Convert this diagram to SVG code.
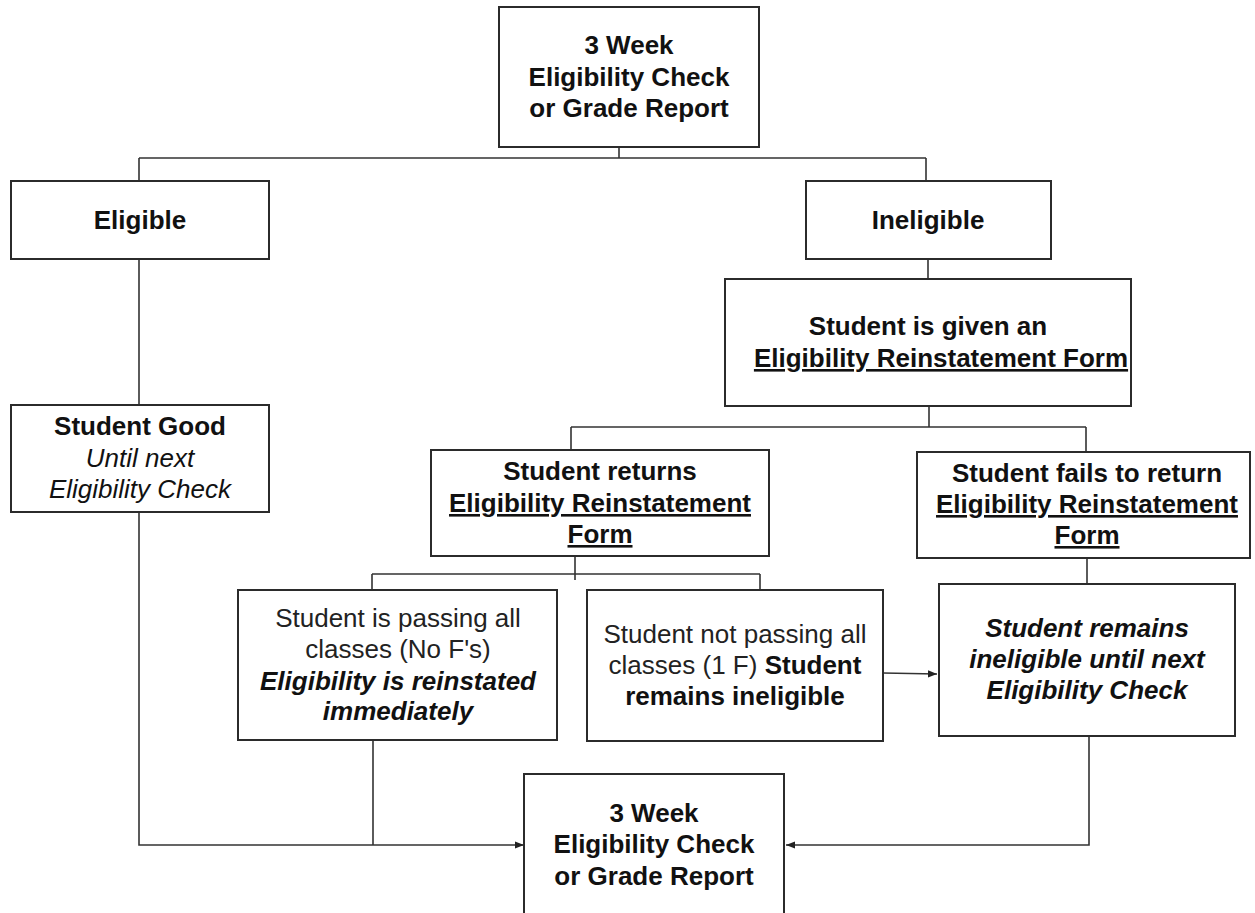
<svg xmlns="http://www.w3.org/2000/svg" width="1255" height="913" viewBox="0 0 1255 913">
<defs>
<style>
.box{fill:#fff;stroke:#2b2b2b;stroke-width:2}
.con{fill:none;stroke:#333;stroke-width:1.6}
text{font-family:"Liberation Sans",Arial,sans-serif;font-size:26px;fill:#111;text-anchor:middle}
.b{font-weight:bold}
.i{font-style:italic}
.r{font-weight:normal;fill:#222}
.u{text-decoration:underline}
</style>
<marker id="ah" viewBox="0 0 10 10" refX="10" refY="5" markerWidth="9" markerHeight="9" markerUnits="userSpaceOnUse" orient="auto">
<path d="M0,1 L10,5 L0,9 Z" fill="#222"/>
</marker>
</defs>
<rect width="1255" height="913" fill="#fff"/>
<g id="connectors">
<path class="con" d="M619 147 V158 M139 158 H926 M139 158 V181 M926 158 V181"/>
<path class="con" d="M139 259 V405"/>
<path class="con" d="M928 259 V279"/>
<path class="con" d="M929 406 V427 M571 427 H1086 M571 427 V450 M1086 427 V452"/>
<path class="con" d="M575 556 V580 M372 574 H760 M372 574 V590 M760 574 V590"/>
<path class="con" d="M1087 558 V584"/>
<path class="con" d="M139 512 V845 H524" marker-end="url(#ah)"/>
<path class="con" d="M373 740 V845"/>
<path class="con" d="M1089 736 V845 H786" marker-end="url(#ah)"/>
<path class="con" d="M883 673 L937 674" marker-end="url(#ah)"/>
</g>
<g id="top">
<rect class="box" x="499" y="7" width="260" height="140"/>
<text class="b" x="629" y="54">3 Week</text>
<text class="b" x="629" y="86">Eligibility Check</text>
<text class="b" x="629" y="117">or Grade Report</text>
</g>
<g id="eligible">
<rect class="box" x="11" y="181" width="258" height="78"/>
<text class="b" x="140" y="229">Eligible</text>
</g>
<g id="ineligible">
<rect class="box" x="806" y="181" width="245" height="78"/>
<text class="b" x="928" y="229">Ineligible</text>
</g>
<g id="given">
<rect class="box" x="725" y="279" width="406" height="127"/>
<text class="b" x="928" y="335">Student is given an</text>
<text class="b u" x="941" y="367">Eligibility Reinstatement Form</text>
</g>
<g id="good">
<rect class="box" x="11" y="405" width="258" height="107"/>
<text class="b" x="140" y="435">Student Good</text>
<text class="i" x="140" y="467">Until next</text>
<text class="i" x="140" y="498">Eligibility Check</text>
</g>
<g id="returns">
<rect class="box" x="431" y="450" width="338" height="106"/>
<text class="b" x="600" y="480">Student returns</text>
<text class="b u" x="600" y="512">Eligibility Reinstatement</text>
<text class="b u" x="600" y="543">Form</text>
</g>
<g id="fails">
<rect class="box" x="917" y="452" width="333" height="106"/>
<text class="b" x="1087" y="482">Student fails to return</text>
<text class="b u" x="1087" y="513">Eligibility Reinstatement</text>
<text class="b u" x="1087" y="544">Form</text>
</g>
<g id="passing">
<rect class="box" x="238" y="590" width="319" height="150"/>
<text class="r" x="398" y="627">Student is passing all</text>
<text class="r" x="398" y="658">classes (No F's)</text>
<text class="b i" x="398" y="690">Eligibility is reinstated</text>
<text class="b i" x="398" y="720">immediately</text>
</g>
<g id="notpassing">
<rect class="box" x="587" y="590" width="296" height="151"/>
<text class="r" x="735" y="643">Student not passing all</text>
<text x="735" y="674"><tspan class="r">classes (1 F) </tspan><tspan class="b">Student</tspan></text>
<text class="b" x="735" y="705">remains ineligible</text>
</g>
<g id="remains">
<rect class="box" x="939" y="584" width="296" height="152"/>
<text class="b i" x="1087" y="637">Student remains</text>
<text class="b i" x="1087" y="668">ineligible until next</text>
<text class="b i" x="1087" y="699">Eligibility Check</text>
</g>
<g id="bottom">
<rect class="box" x="524" y="774" width="260" height="150"/>
<text class="b" x="654" y="822">3 Week</text>
<text class="b" x="654" y="853">Eligibility Check</text>
<text class="b" x="654" y="885">or Grade Report</text>
</g>
</svg>
